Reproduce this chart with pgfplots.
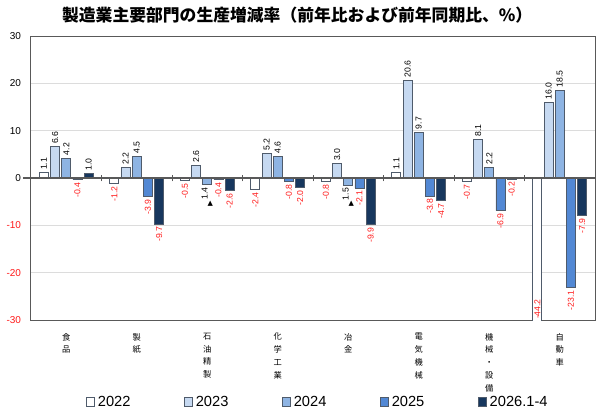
\documentclass[border=0pt]{standalone}
\usepackage{fontspec}
\usepackage{graphicx}
\usepackage{pgfplots}
\usepackage{pgfplotstable}
\pgfplotsset{compat=1.18}
\setmainfont{Liberation Sans}
\newfontfamily\cjk{Noto Sans CJK JP}
\newfontfamily\sym{DejaVu Sans}

\definecolor{barline}{HTML}{4F5B6B}
\definecolor{frame}{HTML}{595959}
\definecolor{gridc}{HTML}{DCDCDC}
\definecolor{labred}{HTML}{FF1A1A}
\definecolor{cA}{HTML}{FFFFFF}
\definecolor{cB}{HTML}{C6D9F1}
\definecolor{cC}{HTML}{8EB4E3}
\definecolor{cD}{HTML}{5288D4}
\definecolor{cE}{HTML}{17375E}

% black decline label with an upright triangle
\newcommand\tri[1]{\color{black}{\sym\rotatebox{-90}{\fontsize{5.2}{5.2}\selectfont ▲}}\,#1}
\newcommand\trA{\tri{1.4}}
\newcommand\trB{\tri{1.5}}

% x: category, y: change (%), lab: label text
\pgfplotstableread{
x y lab
0 1.1 1.1
1 -1.2 -1.2
2 -0.5 -0.5
3 -2.4 -2.4
4 -0.8 -0.8
5 1.1 1.1
6 -0.7 -0.7
7 -44.2 -44.2
}\tA
\pgfplotstableread{
x y lab
0 6.6 6.6
1 2.2 2.2
2 2.6 2.6
3 5.2 5.2
4 3.0 3.0
5 20.6 20.6
6 8.1 8.1
7 16.0 16.0
}\tB
\pgfplotstableread{
x y lab
0 4.2 4.2
1 4.5 4.5
2 -1.4 \trA
3 4.6 4.6
4 -1.5 \trB
5 9.7 9.7
6 2.2 2.2
7 18.5 18.5
}\tC
\pgfplotstableread{
x y lab
0 -0.4 -0.4
1 -3.9 -3.9
2 -0.4 -0.4
3 -0.8 -0.8
4 -2.1 -2.1
5 -3.8 -3.8
6 -6.9 -6.9
7 -23.1 -23.1
}\tD
\pgfplotstableread{
x y lab
0 1.0 1.0
1 -9.7 -9.7
2 -2.6 -2.6
3 -2.0 -2.0
4 -9.9 -9.9
5 -4.7 -4.7
6 -0.2 -0.2
7 -7.9 -7.9
}\tE

\begin{document}
\begin{tikzpicture}
\useasboundingbox (0,0) rectangle (450pt,309pt);
\begin{axis}[
  at={(23.25pt,69pt)}, anchor=south west,
  scale only axis, width=423pt, height=213pt,
  xmin=-0.5, xmax=7.5, ymin=-30, ymax=30,
  clip mode=individual,
  ybar=1.65pt, bar width=6.75pt,
  axis line style={draw=frame, line width=0.75pt},
  ymajorgrids, grid style={draw=gridc, line width=0.6pt},
  ytick={-30,-20,...,30},
  yticklabels={{\color{labred}-30},{\color{labred}-20},{\color{labred}-10},0,10,20,30},
  yticklabel style={font=\fontsize{7.5}{8}\selectfont, xshift=-4pt},
  ytick style={draw=none},
  xtick={0,...,7},
  xticklabels={{食\\品},{製\\紙},{石\\油\\精\\製},{化\\学\\工\\業},{冶\\金},{電\\気\\機\\械},{機\\械\\・\\設\\備},{自\\動\\車}},
  xticklabel style={font=\cjk\fontsize{6.2}{9.6}\selectfont, align=center, anchor=north, yshift=-2pt},
  xtick style={draw=none},
  title={\cjk\bfseries 製造業主要部門の生産増減率（前年比および前年同期比、\%）},
  title style={at={(0.472,1.074)}, anchor=center, yshift=-6pt, font=\fontsize{12.6}{14}\selectfont},
  every axis plot/.append style={draw=barline, line width=0.6pt},
  point meta=explicit symbolic,
  nodes near coords,
  visualization depends on={rawy \as \rawy},
  every node near coord/.append style={
    /utils/exec={%
      \ifdim\rawy pt<0pt \def\anc{east}\def\labcol{labred}\else\def\anc{west}\def\labcol{black}\fi},
    rotate=90, anchor=\anc, text=\labcol,
    font=\fontsize{6.5}{7}\selectfont, inner sep=1.9pt},
  legend columns=5,
  legend style={at={(0.509,-0.289)}, anchor=center, draw=none, fill=none,
    font=\fontsize{11}{12}\selectfont,
    /tikz/every even column/.append style={column sep=38pt}},
  legend image code/.code={\draw[#1] (0pt,-3.2pt) rectangle (6.4pt,3.2pt);},
]
\addplot[fill=cA] table[x=x, y=y, meta=lab] {\tA};
\addplot[fill=cB] table[x=x, y=y, meta=lab] {\tB};
\addplot[fill=cC] table[x=x, y=y, meta=lab] {\tC};
\addplot[fill=cD] table[x=x, y=y, meta=lab] {\tD};
\addplot[fill=cE] table[x=x, y=y, meta=lab] {\tE};
\legend{2022,2023,2024,2025,2026.1-4}
% zero line and group separators
\draw[frame, line width=0.9pt] ([xshift=-6pt]axis cs:-0.5,0) -- (axis cs:7.5,0);
\pgfplotsinvokeforeach{0.5,1.5,2.5,3.5,4.5,5.5,6.5}{
  \draw[frame, line width=0.7pt] ([yshift=-2.5pt]axis cs:#1,0) -- ([yshift=2.5pt]axis cs:#1,0);
}
% the 2022 car bar runs off the scale: its value sits inside the bottom of the bar
\node[rotate=90, text=labred, font=\fontsize{6.5}{7}\selectfont, inner sep=0pt]
  at ([xshift=-16.8pt]axis cs:7,-27.7) {-44.2};
\end{axis}
\end{tikzpicture}
\end{document}
